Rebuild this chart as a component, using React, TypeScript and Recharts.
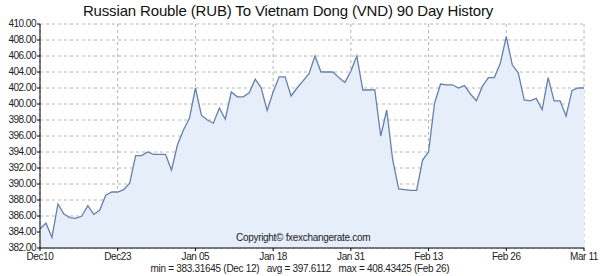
import React from "react";
import { AreaChart, Area, XAxis, YAxis, CartesianGrid } from "recharts";

const title = "Russian Rouble (RUB) To Vietnam Dong (VND) 90 Day History";
const statsText = "min = 383.31645 (Dec 12)   avg = 397.6112   max = 408.43425 (Feb 26)";
const copyrightText = "Copyright\u00A9 fxexchangerate.com";

// daily RUB->VND rate, Dec 10 .. Mar 11 (day index 0..91)
const rates: number[] = [
  384.4, 385.1, 383.32, 387.5, 386.25, 385.8, 385.7, 386.0, 387.3, 386.2,
  386.75, 388.6, 389.0, 389.0, 389.3, 390.1, 393.55, 393.55, 394.0, 393.7,
  393.7, 393.7, 391.75, 394.9, 396.75, 398.2, 402.0, 398.6, 398.0, 397.6,
  399.5, 398.1, 401.5, 400.9, 400.9, 401.4, 403.1, 402.0, 399.2, 401.5,
  403.4, 403.4, 401.0, 402.0, 402.9, 403.8, 406.0, 404.0, 404.0, 404.0,
  403.3, 402.7, 404.1, 406.0, 401.75, 401.75, 401.8, 396.0, 399.25, 393.0,
  389.4, 389.3, 389.2, 389.2, 393.0, 394.0, 400.1, 402.5, 402.4, 402.4,
  402.0, 402.3, 401.25, 400.4, 402.2, 403.3, 403.3, 405.1, 408.43, 404.9,
  403.9, 400.5, 400.4, 400.7, 399.3, 403.3, 400.4, 400.4, 398.5, 401.7,
  402.0, 402.0,
];

const xTickDays: number[] = [0, 13, 26, 39, 52, 65, 78, 91];
const xTickLabels: string[] = ["Dec10", "Dec23", "Jan 05", "Jan 18", "Jan 31", "Feb 13", "Feb 26", "Mar 11"];
const yTicks: number[] = [382, 384, 386, 388, 390, 392, 394, 396, 398, 400, 402, 404, 406, 408, 410];

const data = rates.map((rate, day) => ({ day, rate }));

const sans = "'Liberation Sans', Arial, sans-serif";

export default function App() {
  return (
    <div style={{ position: "absolute", left: 0, top: 0, width: 600, height: 276, background: "#fff" }}>
      <AreaChart
        width={600}
        height={276}
        data={data}
        margin={{ top: 24, right: 16, left: 0, bottom: 0 }}
      >
        <CartesianGrid stroke="#b4b4b4" strokeDasharray="3 3" />
        <XAxis
          dataKey="day"
          type="number"
          domain={[0, 91]}
          ticks={xTickDays}
          tickFormatter={(d: number) => xTickLabels[xTickDays.indexOf(d)] ?? ""}
          height={28}
          stroke="#000"
          tickSize={3}
          tickMargin={2}
          tick={{ fill: "#222", fontSize: 10, fontFamily: sans, letterSpacing: -0.4 }}
          interval={0}
        />
        <YAxis
          type="number"
          domain={[382, 410]}
          ticks={yTicks}
          tickFormatter={(v: number) => v.toFixed(2)}
          width={40}
          stroke="#000"
          tickSize={3}
          tickMargin={1}
          tick={{ fill: "#222", fontSize: 10, fontFamily: sans, letterSpacing: -0.5, dy: -1 }}
          interval={0}
        />
        <Area
          type="linear"
          dataKey="rate"
          stroke="#6580ad"
          strokeWidth={1.3}
          fill="#e6eefa"
          fillOpacity={1}
          dot={false}
          activeDot={false}
          isAnimationActive={false}
        />
      </AreaChart>
      <div
        style={{
          position: "absolute",
          left: 0,
          width: 576,
          top: 2,
          textAlign: "center",
          fontFamily: sans,
          fontSize: 15,
          letterSpacing: -0.15,
          color: "#111",
          whiteSpace: "pre",
        }}
      >
        {title}
      </div>
      <div
        style={{
          position: "absolute",
          left: 236,
          top: 232,
          fontFamily: sans,
          fontSize: 10,
          letterSpacing: -0.3,
          lineHeight: "12px",
          color: "#222",
          whiteSpace: "pre",
        }}
      >
        {copyrightText}
      </div>
      <div
        style={{
          position: "absolute",
          left: 0,
          width: 600,
          top: 263,
          textAlign: "center",
          fontFamily: sans,
          fontSize: 10,
          letterSpacing: -0.3,
          lineHeight: "12px",
          color: "#222",
          whiteSpace: "pre",
        }}
      >
        {statsText}
      </div>
    </div>
  );
}
